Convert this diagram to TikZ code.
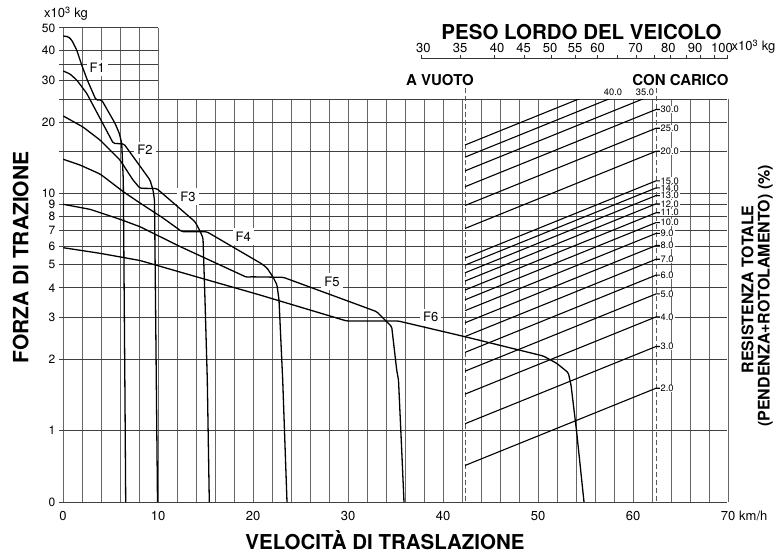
\documentclass[tikz,border=0pt]{standalone}
\usepackage{fontspec}
\setmainfont{TeX Gyre Heros}
\begin{document}
\begin{tikzpicture}[x=1pt,y=-1pt,
  declare function={vx(\v)=63+9.5*\v; fy(\f)=430.5-237*log10(\f); wx(\w)=421+586.5*log10(\w/30);},
  vgrid/.style={black!60,line width=1pt},
  hgrid/.style={black!75,line width=0.8pt},
  curve/.style={black,line width=1.3pt,line join=round,rounded corners=1.5pt},
  rline/.style={black,line width=1.1pt},
  dashline/.style={black!65,line width=1pt,dash pattern=on 5pt off 3pt},
  num/.style={font=\fontsize{13}{15}\selectfont,inner sep=0pt},
  ynum/.style={font=\fontsize{12}{13}\selectfont,inner sep=0pt,anchor=east},
  rlab/.style={font=\fontsize{9.3}{10}\selectfont,fill=white,inner xsep=1pt,inner ysep=0pt,anchor=west},
  flab/.style={font=\fontsize{13}{15}\selectfont,fill=white,inner xsep=3pt,inner ysep=3.5pt},
  bigtitle/.style={font=\fontsize{20.5}{24}\selectfont\bfseries,inner sep=0pt,anchor=base},
  midtitle/.style={font=\fontsize{16}{19}\selectfont\bfseries,inner sep=0pt,anchor=base},
  smalltitle/.style={font=\fontsize{15}{18}\selectfont\bfseries,inner sep=0pt,anchor=base}
]
\useasboundingbox[fill=white] (0,0) rectangle (784,558);

% grid
\foreach \v in {0,2,...,70} \draw[vgrid] ({vx(\v)},99) -- ({vx(\v)},502);
\foreach \v in {0,2,...,10} \draw[vgrid] ({vx(\v)},{fy(50)}) -- ({vx(\v)},99);
\foreach \f in {1,2,3,4,5,6,7,8,9,10,15,20,25} \draw[hgrid] (59,{fy(\f)}) -- (727,{fy(\f)});
\foreach \f in {30,35,40,50} \draw[hgrid] (59,{fy(\f)}) -- ({vx(10)},{fy(\f)});
\draw[hgrid] (59,502) -- (727,502);

% axis labels
\foreach \f in {1,2,3,4,5,6,7,8,9,10,20,30,40,50} \node[ynum] at (55.5,{fy(\f)}) {\f};
\node[ynum] at (55.5,502) {0};
\foreach \v in {0,10,20,30,40,50,60,70} \node[num] at ({vx(\v)},516) {\v};
\node[num,anchor=west] at (739,516) {km/h};
\node[num] at (66,14) {x10\textsuperscript{3} kg};

% weight scale
\draw[black!80,line width=0.9pt] (421,58.5) -- (727.7,58.5);
\foreach \w in {30,35,...,100} \draw[black!80,line width=0.9pt] ({wx(\w)},58.5) -- ({wx(\w)},54.5);
\foreach \w/\lx in {30/423.3,35/460,40/497,45/523.7,50/550,55/575,60/597.7,70/635.7,80/668.3,90/695,100/722}
  \node[num] at (\lx,48) {\w};
\node[num,anchor=west] at (731.5,47) {x10\textsuperscript{3} kg};
\node[bigtitle] at (581.5,39.5) {PESO LORDO DEL VEICOLO};
\node[smalltitle] at (440,85) {A VUOTO};
\node[smalltitle] at (680.5,85) {CON CARICO};

% dashed weight lines
\draw[dashline] (465,88) -- (465,502);
\draw[dashline] (656,88) -- (656,502);

% resistance lines
\begin{scope}
\clip (464,99) rectangle (662,505);
\foreach \r in {45,40,35,30,25,20,15,14,13,12,11,10,9,8,7,6,5,4,3,2}
  \draw[rline] (465,{fy(\r*0.356)}) -- (656,{fy(\r*0.754)}) -- (660,{fy(\r*0.754)});
\end{scope}
\foreach \r in {30,25,20,15,14,13,12,11,10,9,8,7,6,5,4,3,2}
  \node[rlab] at (659.5,{fy(\r*0.754)}) {\r.0};
\node[rlab,anchor=center,fill=none] at (613,92) {40.0};
\node[rlab,anchor=center,fill=none] at (645,92) {35.0};

% gear labels
\node[flab] (l1) at (97.3,68) {F1};
\node[flab] (l2) at (145,150) {F2};
\node[flab] (l3) at (188,196.7) {F3};
\node[flab] (l4) at (243.3,236.7) {F4};
\node[flab] (l5) at (332,281.7) {F5};
\node[flab] (l6) at (430.8,317.3) {F6};

% traction curves
\draw[curve] (63.3,36) -- (68.3,36.7) -- (71.7,40) -- (76.7,50) -- (81.7,65) -- (87.3,80) -- (96,100) -- (101.7,100) -- (115,123.3) -- (119.3,133.3) -- (121.7,143.3) -- (123.3,180) -- (125,400) -- (125.7,502);
\draw[curve] (63.3,71) -- (70,74) -- (76.7,80) -- (86.7,93.3) -- (113.3,143.3) -- (124,144) -- (150,180) -- (153,190) -- (154.5,200) -- (156.5,400) -- (157.5,502);
\draw[curve] (63.3,116) -- (83,127) -- (100,140) -- (120,160) -- (133,180) -- (140,188.3) -- (156.7,188.5) -- (195,221.7) -- (200,231) -- (203,238) -- (205,300) -- (207.3,380) -- (209.3,502);
\draw[curve] (63.3,159.3) -- (80,165) -- (100,174) -- (106.7,179) -- (123.3,191.7) -- (140,203) -- (163,218) -- (182,231.7) -- (206.7,231.7) -- (262,264) -- (267,268) -- (273,277) -- (277,285) -- (279,300) -- (282.7,380) -- (287,502);
\draw[curve] (63.3,204.3) -- (90,209.3) -- (120,219.3) -- (140,226.7) -- (180,246.5) -- (246.7,277.3) -- (250,276.8) -- (283.3,277.3) -- (360,305.5) -- (376.7,311.7) -- (385,320) -- (391.7,326.7) -- (396.7,370) -- (398.5,380) -- (401.7,450) -- (404,502);
\draw[curve] (63.3,247.7) -- (100,253.3) -- (140,260.5) -- (200,277.8) -- (260,295) -- (346.7,321) -- (398.3,321) -- (465,336.7) -- (543.3,356) -- (556.7,363.3) -- (568.3,372.7) -- (571,385) -- (576.5,430.5) -- (584,502);

% titles
\node[bigtitle] at (385,549.5) {VELOCITÀ DI TRASLAZIONE};
\node[bigtitle,rotate=90,font=\fontsize{21}{24}\selectfont\bfseries] at (28.3,257.5) {FORZA DI TRAZIONE};
\node[midtitle,rotate=90] at (753.3,289.4) {RESISTENZA TOTALE};
\node[midtitle,rotate=90] at (769.5,295.8) {(PENDENZA+ROTOLAMENTO) (\%)};
\end{tikzpicture}
\end{document}
